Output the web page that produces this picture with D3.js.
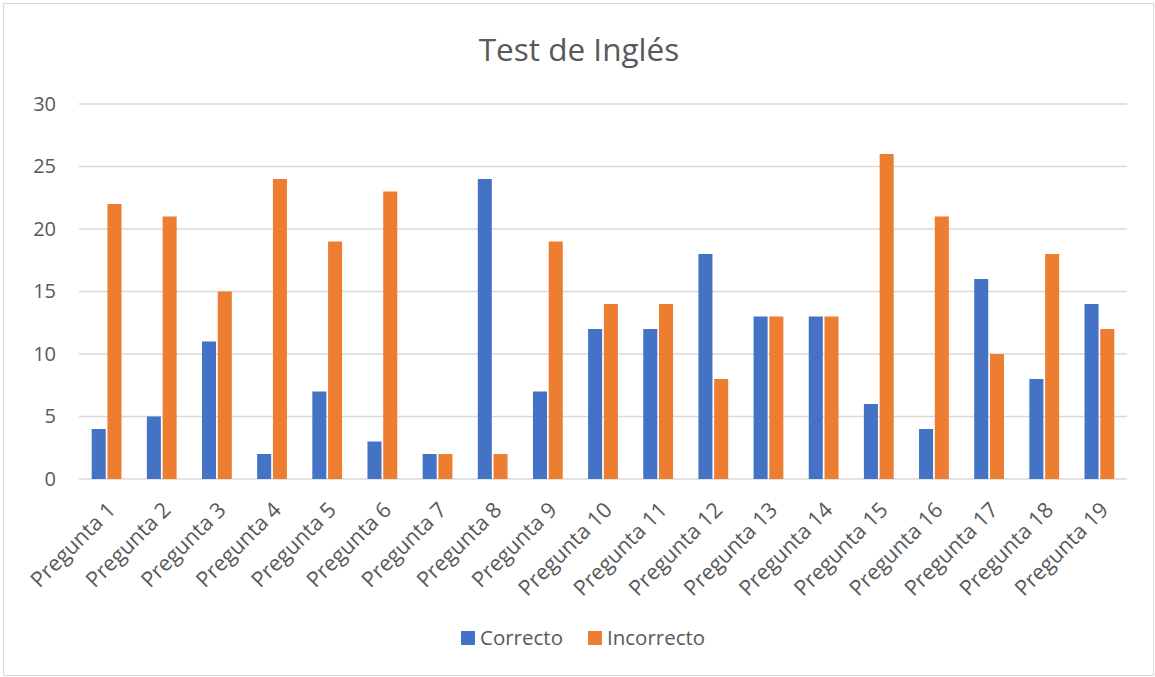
<!DOCTYPE html>
<html>
<head>
<meta charset="utf-8">
<script src="https://cdn.jsdelivr.net/npm/d3@7"></script>
<style>
	body { margin: 0; background: #fff; }
	text { font-family: "Open Sans", "Liberation Sans", sans-serif; fill: #595959; }
</style>
</head>
<body>
<svg id="chart" width="1155" height="677"></svg>
<script>
// datos del test
var categories = d3.range(1, 20).map(function (i) { return "Pregunta " + i; });
var correcto = [4, 5, 11, 2, 7, 3, 2, 24, 7, 12, 12, 18, 13, 13, 6, 4, 16, 8, 14];
var incorrecto = [22, 21, 15, 24, 19, 23, 2, 2, 19, 14, 14, 8, 13, 13, 26, 21, 10, 18, 12];
var seriesNames = ["Correcto", "Incorrecto"];
var yTicks = [0, 5, 10, 15, 20, 25, 30];

var colors = ["#4472C4", "#ED7D31"];
var plotLeft = 79, plotRight = 1127, plotTop = 104, plotBottom = 479;

var svg = d3.select("#chart");

svg.append("rect")
	.attr("x", 3.5).attr("y", 3.5)
	.attr("width", 1150).attr("height", 672)
	.attr("fill", "#fff")
	.attr("stroke", "#d9d9d9");

var x = d3.scaleBand().domain(categories).range([plotLeft, plotRight]).paddingInner(0.46).paddingOuter(0.23);
var xs = d3.scaleBand().domain(seriesNames).range([0, x.bandwidth()]).paddingInner(0.11);
var y = d3.scaleLinear().domain([0, 30]).range([plotBottom, plotTop]);

// grid
svg.append("g")
	.selectAll("line")
	.data(yTicks)
	.enter()
	.append("line")
	.attr("x1", plotLeft).attr("x2", plotRight)
	.attr("y1", function (d) { return y(d); })
	.attr("y2", function (d) { return y(d); })
	.attr("stroke", "#d9d9d9")
	.attr("stroke-width", 1.5);

// eje y
var yAxis = svg.append("g")
	.attr("transform", "translate(" + (plotLeft - 23) + ",0)")
	.call(d3.axisLeft(y).tickValues(yTicks).tickSize(0).tickPadding(0));
yAxis.select(".domain").remove();
yAxis.selectAll("text")
	.attr("font-size", 20)
	.style("font-family", "'Open Sans', sans-serif")
	.attr("fill", "#595959");

var rows = categories.map(function (c, i) {
	return { cat: c, values: [correcto[i], incorrecto[i]] };
});

var groups = svg.append("g")
	.selectAll("g")
	.data(rows)
	.enter()
	.append("g")
	.attr("transform", function (d) { return "translate(" + x(d.cat) + ",0)"; });

groups.selectAll("rect")
	.data(function (d) {
		return d.values.map(function (v, j) { return { key: seriesNames[j], v: v, j: j }; });
	})
	.enter()
	.append("rect")
	.attr("x", function (d) { return xs(d.key); })
	.attr("width", xs.bandwidth())
	.attr("y", function (d) { return y(d.v); })
	.attr("height", function (d) { return y(0) - y(d.v); })
	.attr("fill", function (d) { return colors[d.j]; });

// eje x
var xAxis = svg.append("g")
	.attr("transform", "translate(0," + plotBottom + ")")
	.call(d3.axisBottom(x).tickSize(0).tickPadding(0));
xAxis.select(".domain").remove();
xAxis.selectAll("text")
	.attr("font-size", 21.5)
	.style("font-family", "'Open Sans', sans-serif")
	.attr("fill", "#595959")
	.attr("text-anchor", "end")
	.attr("dy", "0.35em")
	.attr("transform", "translate(5,27) rotate(-45)");

// titulo
svg.append("text")
	.attr("x", 579).attr("y", 61)
	.attr("text-anchor", "middle")
	.attr("font-size", 31.5)
	.text("Test de Inglés");

// leyenda
var legend = svg.append("g")
	.selectAll("g")
	.data(seriesNames)
	.enter()
	.append("g")
	.attr("transform", function (d, i) { return "translate(" + [461, 588][i] + ",631)"; });

legend.append("rect")
	.attr("width", 14).attr("height", 14)
	.attr("fill", function (d, i) { return colors[i]; });

legend.append("text")
	.attr("x", 19).attr("y", 7)
	.attr("dy", "0.35em")
	.attr("font-size", 20.5)
	.text(function (d) { return d; });
</script>
</body>
</html>
